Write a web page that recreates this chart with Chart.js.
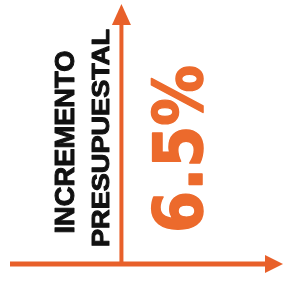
<!DOCTYPE html>
<html>
<head>
<meta charset="utf-8">
<script src="https://cdn.jsdelivr.net/npm/chart.js@4.4.0/dist/chart.umd.min.js"></script>
<style>
  html, body { margin: 0; padding: 0; background: #fff; }
  #wrap { width: 285px; height: 283px; }
</style>
</head>
<body>
<div id="wrap"><canvas id="chart"></canvas></div>
<script>
// Data
const labelLines = ['INCREMENTO', 'PRESUPUESTAL'];
const increment = [6.5];
const valueLabels = increment.map(v => v.toFixed(1) + '%');

const orange = '#e8602a';
const textOrange = '#ec6a2c';

// draw rotated text, squeezed to a target length
function rotatedText(ctx, text, cx, cy, size, length, color, family, stroke) {
    ctx.save();
    ctx.translate(cx, cy);
    ctx.rotate(-Math.PI / 2);
    ctx.font = 'bold ' + size + 'px ' + family;
    const w = ctx.measureText(text).width;
    ctx.scale(length / w, 1);
    ctx.fillStyle = color;
    ctx.textAlign = 'center';
    ctx.textBaseline = 'middle';
    ctx.fillText(text, 0, 0);
    if (stroke) {
        ctx.strokeStyle = color;
        ctx.lineWidth = stroke;
        ctx.lineJoin = 'round';
        ctx.strokeText(text, 0, 0);
    }
    ctx.restore();
}

const arrowAxes = {
    id: 'arrowAxes',
    afterDraw(chart) {
        const ctx = chart.ctx;
        const area = chart.chartArea;
        const x = chart.scales.x, y = chart.scales.y;
        const ox = x.getPixelForValue(0);
        const oy = y.getPixelForValue(0);

        ctx.save();
        ctx.strokeStyle = orange;
        ctx.fillStyle = orange;
        ctx.lineCap = 'butt';

        // horizontal axis
        ctx.lineWidth = 5;
        ctx.beginPath();
        ctx.moveTo(area.left, oy);
        ctx.lineTo(area.right - 14, oy);
        ctx.stroke();
        ctx.beginPath();
        ctx.moveTo(area.right, oy);
        ctx.lineTo(area.right - 18, oy - 9);
        ctx.lineTo(area.right - 18, oy + 9);
        ctx.closePath();
        ctx.fill();

        // vertical axis
        ctx.lineWidth = 4;
        ctx.beginPath();
        ctx.moveTo(ox, oy);
        ctx.lineTo(ox, area.top + 16);
        ctx.stroke();
        ctx.beginPath();
        ctx.moveTo(ox, area.top);
        ctx.lineTo(ox - 9.5, area.top + 21);
        ctx.lineTo(ox + 9.5, area.top + 21);
        ctx.closePath();
        ctx.fill();
        ctx.restore();

        // axis title, two lines to the left of the vertical axis
        const font = '"Liberation Sans", Arial, sans-serif';
        rotatedText(ctx, labelLines[0], ox - 55, oy - 122, 27, 183, '#111', font, 1);
        rotatedText(ctx, labelLines[1], ox - 19, oy - 126, 23, 218, '#111', font, 1);

        // value
        rotatedText(ctx, valueLabels[0], ox + 63, oy - 115, 68, 168, textOrange, '"DejaVu Sans", sans-serif', 1.5);
    }
};

new Chart(document.getElementById('chart').getContext('2d'), {
    type: 'scatter',
    data: {
        datasets: [{
            data: increment.map(v => ({ x: 0, y: v })),
            pointRadius: 0
        }]
    },
    options: {
        responsive: true,
        maintainAspectRatio: false,
        animation: false,
        layout: { padding: { left: 10, right: 2, top: 4, bottom: 19 } },
        plugins: { legend: { display: false }, tooltip: { enabled: false } },
        scales: {
            x: { display: false, min: -1, max: 1.45 },
            y: { display: false, min: 0, max: 10 }
        }
    },
    plugins: [arrowAxes]
});
</script>
</body>
</html>
